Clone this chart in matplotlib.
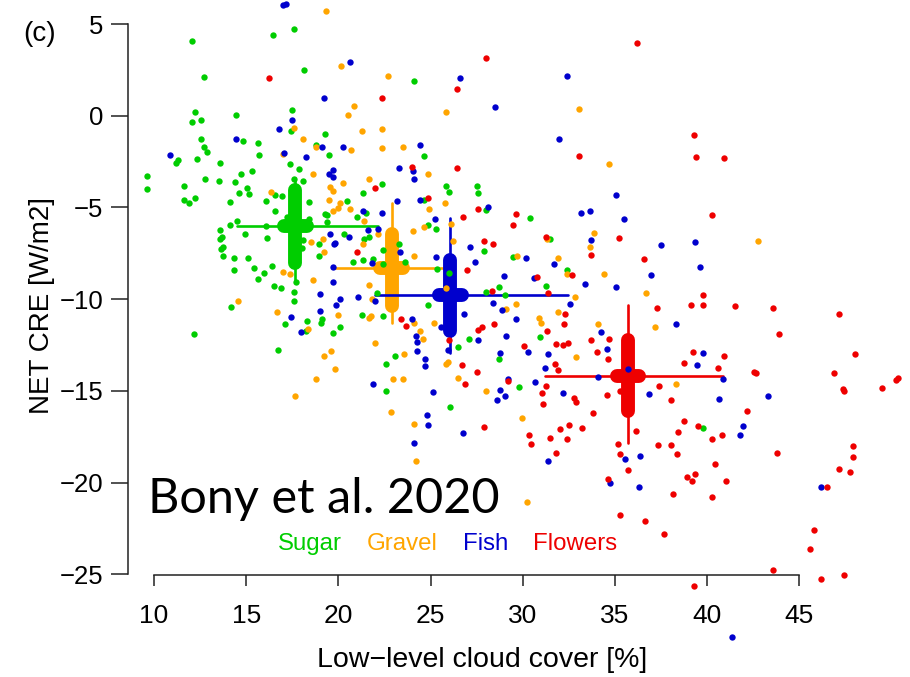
import matplotlib
matplotlib.use("Agg")
import matplotlib.pyplot as plt
import numpy as np

# ---------------- data ----------------
sugar_x = [17.59,16.45,12.04,18.13,12.73,24.12,12.24,14.45,17.48,12.06,12.55,17.43,19.27,12.55,14.81,15.62,
           12.71,12.87,18.77,15.69,19.51,24.64,11.28,11.21,12.33,13.58,17.38,17.86,14.72,15.33,9.62,9.62,
           12.78,13.51,14.41,15.06,14.59,15.17,11.64,17.59,18.06,22.36,25.82,26.00,27.52,27.59,16.09,16.56,
           16.94,11.63,11.90,12.21,14.10,21.33,20.45,27.99,18.41,16.58,19.27,19.40,21.03,21.51,19.38,14.48,
           14.12,13.58,13.69,13.60,13.76,13.61,13.72,14.95,16.09,16.13,24.86,25.29,20.32,21.41,21.64,18.97,
           18.95,22.44,27.91,29.45,14.36,15.12,16.38,15.42,15.98,14.36,15.62,20.81,21.33,21.86,22.44,23.59,
           25.35,17.70,16.49,16.87,28.69,28.00,18.06,18.01,17.19,18.39,24.66,23.29,26.02,
           14.18,17.57,17.57,22.08,12.19,17.12,18.31,19.09,19.07,18.22,19.69,20.07,16.71,21.28,22.40,22.58,
           22.56,23.07,26.07,24.86,27.10,26.50,28.73,29.79,29.02,
           30.39,31.47,32.38,31.26,30.93,39.75]
sugar_y = [4.71,4.42,4.06,2.49,2.13,1.88,0.20,0.02,0.33,-0.34,-0.23,-0.81,-1.00,-1.25,-1.38,-1.51,
           -1.69,-1.96,-1.60,-2.12,-2.12,-2.20,-2.41,-2.56,-2.34,-2.56,-2.63,-2.92,-3.18,-3.03,-3.31,-3.99,
           -3.47,-3.54,-3.61,-3.94,-4.20,-4.29,-3.81,-3.47,-3.54,-3.71,-3.81,-4.14,-3.81,-4.20,-4.67,-4.32,
           -4.38,-4.61,-4.74,-4.47,-4.72,-4.20,-4.65,-5.14,-4.72,-5.18,-5.38,-5.40,-5.50,-5.32,-5.78,-5.74,
           -5.98,-6.23,-6.59,-6.74,-7.14,-7.27,-7.63,-6.45,-6.03,-6.67,-5.98,-6.16,-6.47,-6.72,-6.61,-7.01,
           -7.63,-7.32,-7.38,-7.72,-7.78,-7.74,-8.18,-8.32,-8.56,-8.41,-8.92,-7.96,-7.85,-7.81,-8.10,-7.99,
           -8.38,-9.09,-9.28,-9.39,-9.36,-9.59,-6.78,-7.23,-5.50,-5.61,-4.60,-6.99,-8.56,
           -10.41,-9.59,-10.09,-9.69,-11.90,-11.38,-11.18,-11.10,-11.32,-11.72,-11.83,-11.50,-12.76,-10.85,-10.90,-14.99,
           -13.56,-13.10,-15.86,-10.32,-12.16,-12.61,-13.25,-14.77,-9.78,
           -5.58,-6.72,-8.43,-9.27,-12.05,-17.03]

gravel_x = [19.33,20.14,22.71,20.85,25.85,20.54,17.57,22.36,21.30,18.10,18.77,20.66,22.36,23.52,17.01,18.60,
            24.86,20.27,21.66,19.53,19.71,16.34,19.51,20.07,19.71,19.96,25.78,24.91,20.61,21.39,26.13,22.17,
            24.64,24.03,19.18,18.51,21.35,26.22,19.24,24.12,29.67,16.98,17.38,18.60,21.64,25.82,
            14.54,16.65,19.98,18.35,19.24,19.62,19.80,18.79,17.66,21.84,21.68,21.75,21.98,22.98,23.49,23.58,
            22.85,24.08,24.42,24.59,25.20,24.08,24.21,26.47,25.85,25.96,29.07,28.00,29.61,
            33.07,34.66,33.88,31.29,33.64,42.74,31.93,32.38,34.40,
            32.81,36.70,31.93,30.88,30.99,34.06,37.17,32.90,38.31,29.94,30.21]
gravel_y = [5.69,2.69,2.17,0.53,0.22,0.04,-0.65,-0.71,-0.85,-1.29,-1.69,-1.87,-1.78,-1.69,-2.07,-3.18,
            -3.20,-3.69,-3.45,-3.87,-4.09,-4.16,-4.61,-4.76,-5.18,-5.05,-4.74,-5.09,-5.07,-5.74,-5.90,-6.47,
            -6.05,-6.29,-6.72,-6.89,-7.01,-6.83,-7.45,-7.67,-7.63,-8.54,-8.63,-8.96,-9.25,-9.41,
            -10.09,-10.72,-10.85,-11.61,-13.12,-12.83,-13.79,-14.37,-15.26,-10.00,-11.01,-10.92,-12.37,-14.36,-14.36,-13.01,
            -16.17,-11.28,-11.76,-12.16,-11.28,-16.83,-18.81,-14.28,-13.54,-13.41,-10.52,-15.03,-10.27,
            0.37,-2.61,-6.41,-6.72,-7.14,-6.85,-7.78,-8.63,-8.63,
            -9.90,-9.69,-10.70,-11.01,-11.32,-11.34,-11.50,-13.16,-14.63,-16.46,-21.08]

fish_x = [17.01,17.16,20.63,19.24,26.58,28.49,17.47,16.80,14.43,10.85,18.22,19.13,20.23,24.42,17.03,23.27,
          24.06,24.10,19.72,19.47,19.69,24.41,23.18,22.38,21.33,28.11,25.24,21.59,22.13,19.54,19.83,19.74,
          20.59,23.34,25.31,27.14,27.43,21.80,19.69,19.72,28.96,
          18.98,20.09,19.87,21.08,22.00,17.45,18.98,17.99,21.90,24.21,24.28,24.24,24.01,24.68,24.70,25.11,
          24.80,24.84,24.08,26.78,26.83,25.55,27.59,28.37,28.85,29.07,25.96,28.76,29.18,28.78,29.02,28.62,29.63,
          32.40,31.95,35.05,33.17,33.63,35.49,33.70,37.51,39.36,30.16,31.71,39.61,30.59,36.95,33.37,35.05,
          32.58,38.33,34.24,30.26,31.38,34.55,39.79,31.19,39.45,35.72,34.08,40.84,30.68,32.18,36.83,40.62,
          43.28,41.94,41.76,35.56,36.37,31.37,34.75,36.32,46.17,41.35]
fish_y = [6.06,6.09,2.93,0.98,2.04,0.47,-0.22,-0.72,-1.25,-2.14,-2.25,-1.69,-1.69,-1.60,-2.02,-2.85,
          -3.03,-3.45,-2.96,-3.20,-3.36,-4.60,-4.65,-5.29,-5.20,-4.99,-5.65,-6.23,-6.20,-6.47,-6.92,-7.01,
          -6.61,-7.45,-7.70,-7.14,-7.96,-8.05,-8.23,-9.05,-8.72,
          -9.72,-10.01,-10.30,-9.90,-10.09,-10.96,-10.67,-11.78,-14.63,-12.01,-12.34,-12.81,-11.10,-13.27,-13.65,-15.08,
          -16.34,-16.85,-17.85,-17.28,-10.83,-11.50,-12.21,-10.21,-10.59,-12.03,-12.78,-12.94,-14.34,-14.96,-15.30,-15.52,-11.10,
          2.15,-1.29,-4.32,-5.29,-5.22,-5.65,-6.78,-7.05,-6.87,-7.78,-8.07,-8.23,-8.83,-8.67,-9.19,-9.32,
          -10.28,-11.36,-11.78,-12.90,-12.99,-12.72,-12.96,-13.76,-13.59,-13.83,-14.23,-14.36,-14.50,-15.10,-15.19,-15.45,
          -15.26,-16.90,-17.43,-18.72,-18.54,-18.83,-20.01,-20.26,-20.26,-28.42]

flowers_x = [27.99,16.24,26.45,22.36,23.99,26.45,21.98,24.88,27.57,29.61,26.78,29.45,20.99,27.88,28.38,26.99,28.35,
             23.40,23.68,27.91,27.55,27.80,28.46,26.70,27.52,26.85,25.99,29.18,
             36.20,39.28,33.07,39.38,40.89,40.28,31.26,35.22,33.68,36.59,32.67,30.75,
             31.35,39.75,39.75,39.12,37.28,41.51,43.59,47.15,32.31,32.25,43.88,31.29,33.68,34.69,31.80,32.20,
             32.43,30.06,34.00,34.64,39.21,40.91,48.00,31.75,31.91,38.76,40.60,42.52,42.63,46.89,50.24,50.35,
             49.50,47.35,47.44,31.24,31.04,31.11,32.76,32.90,34.57,35.27,37.40,38.04,33.79,42.18,32.52,32.00,
             33.23,30.32,30.46,31.49,32.40,36.12,38.72,39.48,38.42,40.28,40.78,35.14,37.31,38.02,35.27,38.36,
             31.78,40.42,43.80,47.91,47.89,47.17,47.73,35.69,38.90,39.36,39.18,41.00,34.64,38.15,40.24,46.51,
             35.27,36.63,37.68,45.77,45.57,43.59,47.44,46.15,39.28]
flowers_y = [3.17,2.07,1.47,0.95,-2.78,-2.87,-3.92,-4.47,-5.07,-5.36,-5.54,-5.96,-7.45,-6.83,-6.98,-8.41,-9.56,
             -11.07,-11.45,-16.99,-11.68,-11.50,-11.34,-13.61,-13.99,-14.61,-12.23,-14.47,
             3.97,-1.03,-2.20,-2.27,-2.31,-5.40,-6.61,-6.65,-7.59,-7.83,-8.67,-8.79,
             -9.69,-9.78,-10.32,-10.32,-10.50,-10.36,-10.50,-10.83,-10.83,-11.38,-11.92,-11.74,-12.21,-12.16,-12.43,-12.52,
             -12.41,-12.54,-12.90,-13.25,-12.90,-13.10,-13.01,-13.52,-13.88,-13.47,-13.77,-13.97,-14.01,-14.01,-14.40,-14.30,
             -14.86,-14.92,-14.99,-14.72,-15.14,-15.74,-15.41,-15.61,-15.25,-14.99,-14.76,-15.50,-16.21,-16.12,-16.88,-17.08,
             -17.03,-17.39,-17.90,-17.57,-17.61,-17.21,-16.66,-16.90,-17.25,-17.61,-17.43,-17.92,-17.97,-17.97,-18.46,-18.46,
             -18.39,-18.97,-18.39,-17.99,-18.63,-19.26,-19.45,-19.32,-19.70,-19.55,-19.90,-19.94,-19.79,-20.61,-20.77,-20.26,
             -21.75,-22.12,-22.81,-22.59,-23.61,-24.75,-25.04,-25.28,-25.64]

# summary crosses: centre, thick (inner) ranges and thin (outer) ranges
categories = ["Sugar", "Gravel", "Fish", "Flowers"]
center_x = [17.65, 22.89, 26.05, 35.70]
center_y = [-6.01, -8.30, -9.80, -14.19]
inner_x = [(17.05, 18.30), (22.26, 23.50), (25.46, 26.70), (35.11, 36.30)]
inner_y = [(-4.05, -8.03), (-6.45, -10.38), (-7.87, -11.74), (-12.23, -16.10)]
outer_x = [(14.50, 22.15), (19.71, 25.94), (21.98, 32.45), (31.20, 40.86)]
outer_y = [(-3.40, -8.96), (-4.76, -11.30), (-5.58, -12.94), (-10.32, -17.85)]

colors = ["#00CD00", "#FFA500", "#0000CD", "#EE0000"]
xticks = [10, 15, 20, 25, 30, 35, 40, 45]
yticks = [5, 0, -5, -10, -15, -20, -25]

# ---------------- figure ----------------
plt.rcParams['font.family'] = ['Liberation Sans', 'DejaVu Sans']
fig = plt.figure(figsize=(9.1, 6.77), dpi=100)
ax = fig.add_axes([0, 0, 1, 1])
ax.set_xlim(1.649, 50.998)
ax.set_ylim(-30.605, 6.309)

for k in range(4):
    c = colors[k]
    ax.plot(outer_x[k], [center_y[k]] * 2, color=c, lw=1.9, solid_capstyle='round', zorder=2)
    ax.plot([center_x[k]] * 2, outer_y[k], color=c, lw=1.9, solid_capstyle='round', zorder=2)
    ax.plot([center_x[k]] * 2, inner_y[k], color=c, lw=10, solid_capstyle='round', zorder=2)
    ax.plot(inner_x[k], [center_y[k]] * 2, color=c, lw=10, solid_capstyle='round', zorder=2)

for xs, ys, c in [(sugar_x, sugar_y, colors[0]), (gravel_x, gravel_y, colors[1]),
                  (fish_x, fish_y, colors[2]), (flowers_x, flowers_y, colors[3])]:
    ax.scatter(xs, ys, s=21, color=c, linewidths=0, zorder=3)

for s in ['top', 'right']:
    ax.spines[s].set_visible(False)
ax.spines['left'].set_position(('data', 8.606))
ax.spines['left'].set_bounds(-25, 5)
ax.spines['bottom'].set_position(('data', -25.04))
ax.spines['bottom'].set_bounds(10, 45)
for s in ['left', 'bottom']:
    ax.spines[s].set_linewidth(1.1)
    ax.spines[s].set_color('#222222')
ax.set_xticks(xticks)
ax.set_yticks(yticks)
ax.set_xticklabels([str(v) for v in xticks])
ax.set_yticklabels([str(v).replace('-', '\u2212') for v in yticks])
ax.tick_params(axis='x', length=8, width=1.1, labelsize=19, pad=13, color='#222222')
ax.tick_params(axis='y', length=12, width=1.1, labelsize=18.5, pad=6, color='#222222')

fig.text(0.5297, 0.0251, "Low\u2212level cloud cover [%]", ha='center', va='center', fontsize=20.5)
fig.text(0.046, 0.549, "NET CRE [W/m2]", ha='center', va='center', rotation=90, fontsize=20)
fig.text(0.044, 0.950, "(c)", ha='center', va='center', fontsize=20)
fig.text(0.163, 0.242, "Bony et al. 2020", ha='left', va='baseline', fontsize=35,
         family=['Lato', 'DejaVu Sans'])

leg_x = [310, 402, 486, 575]
for k in range(4):
    fig.text(leg_x[k] / 910, 0.1965, categories[k], color=colors[k], ha='center', va='center', fontsize=17.3)

fig.savefig("out.png", dpi=100)
